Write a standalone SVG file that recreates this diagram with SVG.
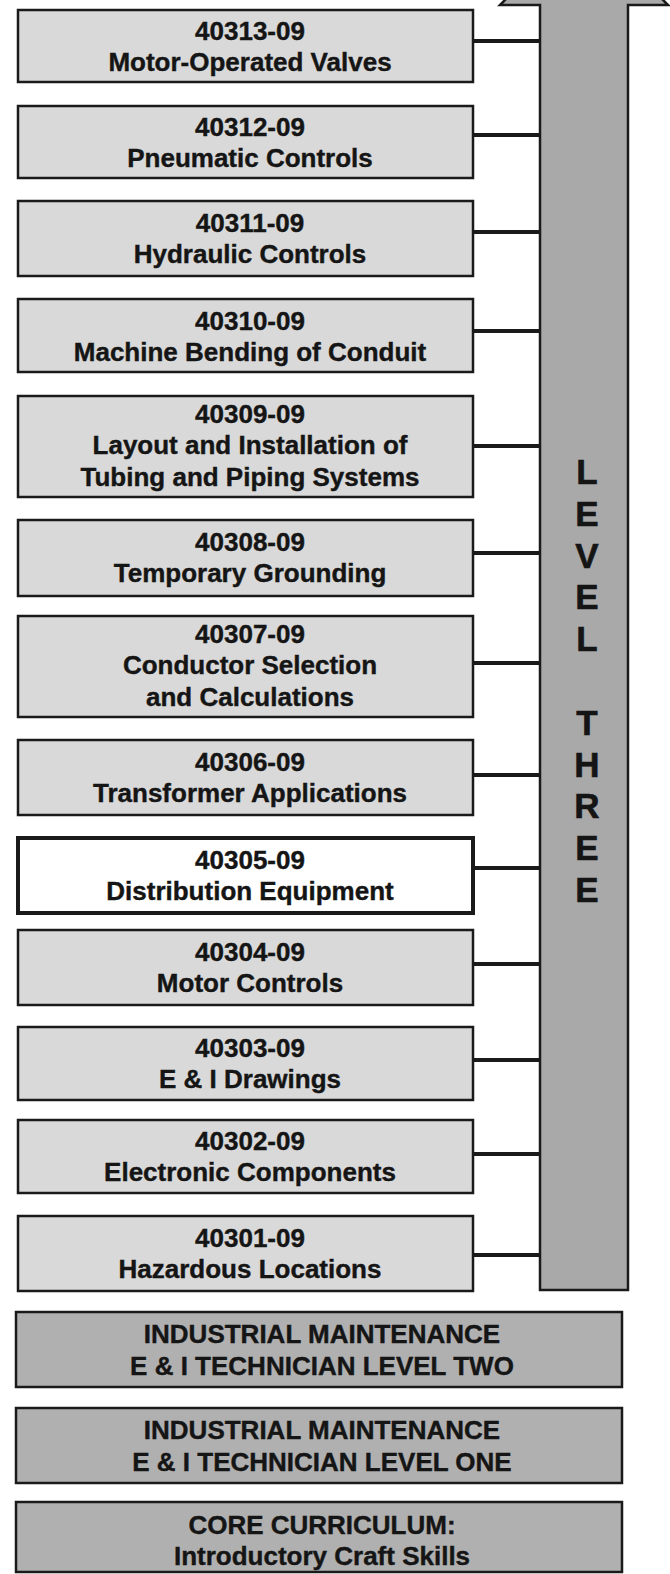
<svg xmlns="http://www.w3.org/2000/svg" width="670" height="1574" viewBox="0 0 670 1574">
<style>
.box{fill:#d9d9d9;stroke:#1a1a1a;stroke-width:2.5}
.hl{fill:#ffffff;stroke:#1a1a1a;stroke-width:4}
.base{fill:#b0b0b0;stroke:#1a1a1a;stroke-width:2.5}
.t{font-family:"Liberation Sans",Arial,sans-serif;font-weight:bold;font-size:26px;fill:#151515;stroke:#151515;stroke-width:0.4;text-anchor:middle}
.lv{font-family:"Liberation Sans",Arial,sans-serif;font-weight:bold;font-size:35px;fill:#151515;stroke:#151515;stroke-width:0.6;text-anchor:middle}
.c{stroke:#1a1a1a;stroke-width:4;fill:none}
</style>
<rect width="670" height="1574" fill="#ffffff"/>
<g id="connectors">
<line class="c" x1="473" y1="41" x2="540" y2="41"/>
<line class="c" x1="473" y1="135" x2="540" y2="135"/>
<line class="c" x1="473" y1="232" x2="540" y2="232"/>
<line class="c" x1="473" y1="331" x2="540" y2="331"/>
<line class="c" x1="473" y1="446" x2="540" y2="446"/>
<line class="c" x1="473" y1="553" x2="540" y2="553"/>
<line class="c" x1="473" y1="663" x2="540" y2="663"/>
<line class="c" x1="473" y1="775" x2="540" y2="775"/>
<line class="c" x1="473" y1="868" x2="540" y2="868"/>
<line class="c" x1="473" y1="964" x2="540" y2="964"/>
<line class="c" x1="473" y1="1060" x2="540" y2="1060"/>
<line class="c" x1="473" y1="1154" x2="540" y2="1154"/>
<line class="c" x1="473" y1="1255" x2="540" y2="1255"/>
</g>
<g id="level-three-arrow">
<polygon points="540,1290 540,5 500,5 584,-80 668,5 628,5 628,1290" fill="#a9a9a9" stroke="#1a1a1a" stroke-width="2.5"/>
<text class="lv" x="587" y="484">L</text>
<text class="lv" x="587" y="526">E</text>
<text class="lv" x="587" y="568">V</text>
<text class="lv" x="587" y="609">E</text>
<text class="lv" x="587" y="651">L</text>
<text class="lv" x="587" y="735">T</text>
<text class="lv" x="587" y="777">H</text>
<text class="lv" x="587" y="818">R</text>
<text class="lv" x="587" y="860">E</text>
<text class="lv" x="587" y="902">E</text>
</g>
<g id="n40313"><rect class="box" x="18" y="10" width="455" height="72"/><text class="t" x="250" y="40">40313-09</text><text class="t" x="250" y="71">Motor-Operated Valves</text></g>
<g id="n40312"><rect class="box" x="18" y="106" width="455" height="72"/><text class="t" x="250" y="136">40312-09</text><text class="t" x="250" y="167">Pneumatic Controls</text></g>
<g id="n40311"><rect class="box" x="18" y="201" width="455" height="75"/><text class="t" x="250" y="232">40311-09</text><text class="t" x="250" y="263">Hydraulic Controls</text></g>
<g id="n40310"><rect class="box" x="18" y="299" width="455" height="73"/><text class="t" x="250" y="330">40310-09</text><text class="t" x="250" y="361">Machine Bending of Conduit</text></g>
<g id="n40309"><rect class="box" x="18" y="396" width="455" height="101"/><text class="t" x="250" y="423">40309-09</text><text class="t" x="250" y="454">Layout and Installation of</text><text class="t" x="250" y="486">Tubing and Piping Systems</text></g>
<g id="n40308"><rect class="box" x="18" y="520" width="455" height="76"/><text class="t" x="250" y="551">40308-09</text><text class="t" x="250" y="582">Temporary Grounding</text></g>
<g id="n40307"><rect class="box" x="18" y="616" width="455" height="101"/><text class="t" x="250" y="643">40307-09</text><text class="t" x="250" y="674">Conductor Selection</text><text class="t" x="250" y="706">and Calculations</text></g>
<g id="n40306"><rect class="box" x="18" y="740" width="455" height="75"/><text class="t" x="250" y="771">40306-09</text><text class="t" x="250" y="802">Transformer Applications</text></g>
<g id="n40305"><rect class="hl" x="18" y="838" width="455" height="75"/><text class="t" x="250" y="869">40305-09</text><text class="t" x="250" y="900">Distribution Equipment</text></g>
<g id="n40304"><rect class="box" x="18" y="930" width="455" height="75"/><text class="t" x="250" y="961">40304-09</text><text class="t" x="250" y="992">Motor Controls</text></g>
<g id="n40303"><rect class="box" x="18" y="1027" width="455" height="73"/><text class="t" x="250" y="1057">40303-09</text><text class="t" x="250" y="1088">E &amp; I Drawings</text></g>
<g id="n40302"><rect class="box" x="18" y="1120" width="455" height="73"/><text class="t" x="250" y="1150">40302-09</text><text class="t" x="250" y="1181">Electronic Components</text></g>
<g id="n40301"><rect class="box" x="18" y="1216" width="455" height="75"/><text class="t" x="250" y="1247">40301-09</text><text class="t" x="250" y="1278">Hazardous Locations</text></g>
<g id="level-two"><rect class="base" x="16" y="1312" width="606" height="75"/><text class="t" x="322" y="1343">INDUSTRIAL MAINTENANCE</text><text class="t" x="322" y="1375">E &amp; I TECHNICIAN LEVEL TWO</text></g>
<g id="level-one"><rect class="base" x="16" y="1408" width="606" height="75"/><text class="t" x="322" y="1439">INDUSTRIAL MAINTENANCE</text><text class="t" x="322" y="1471">E &amp; I TECHNICIAN LEVEL ONE</text></g>
<g id="core"><rect class="base" x="16" y="1502" width="606" height="70"/><text class="t" x="322" y="1534">CORE CURRICULUM:</text><text class="t" x="322" y="1565">Introductory Craft Skills</text></g>
</svg>
